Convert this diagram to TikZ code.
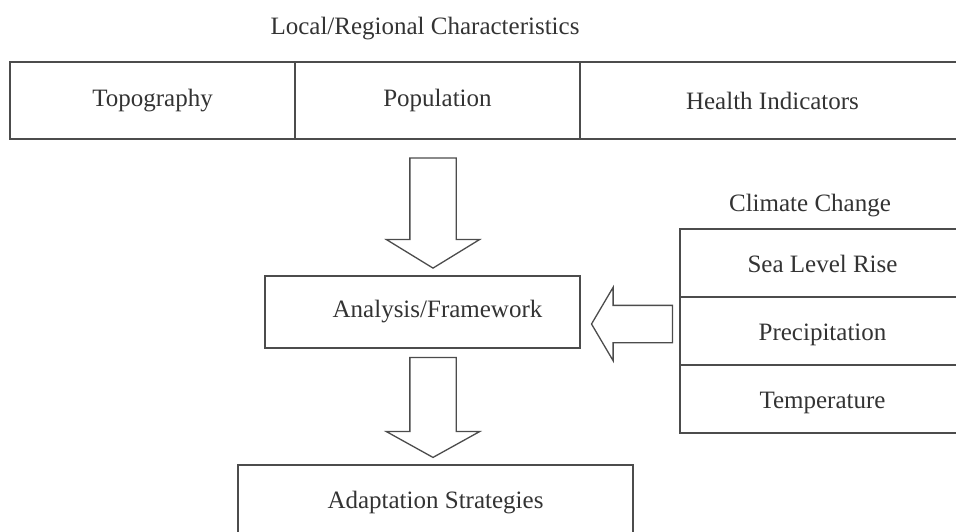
\documentclass[tikz,border=0pt]{standalone}
\usepackage{fontspec}
\setmainfont{Liberation Serif}
\usetikzlibrary{positioning,shapes.arrows}

\begin{document}
\begin{tikzpicture}[
  x=1pt,y=-1pt,
  node distance=0pt,
  line width=1.3pt,
  every node/.style={font=\fontsize{25}{28}\selectfont, text=black!80},
  cell/.style={draw=black!70, rectangle, outer sep=0pt, minimum height=77pt}, % cells of the top row
  stack cell/.style={draw=black!70, rectangle, outer sep=0pt, minimum width=285pt, minimum height=68pt,
    text height=20pt, text depth=1.5pt}, % cells of the climate stack
  box/.style={draw=black!70, rectangle, outer sep=0pt}, % single boxes
  big arrow/.style={single arrow, draw=black!70, fill=white, inner xsep=0pt} % hollow block arrows
  ]
  \clip (0,0) rectangle (956,531);
  \useasboundingbox (0,0) rectangle (956,531);

  % top row
  \node (local) at (425,29) {Local/Regional Characteristics};
  \node[cell, minimum width=285pt] (topo) at (152.5,100.5) {Topography};
  \node[cell, minimum width=285pt] (pop) [right=of topo] {Population};
  \node[cell, minimum width=385pt] (health) [right=of pop] {Health Indicators};

  % middle
  \node[box, minimum width=315pt, minimum height=72pt] (frame) at (422.5,312) {\hspace*{30pt}Analysis/Framework};
  \node[box, minimum width=395pt, minimum height=76pt] (adapt) at (435.5,503) {Adaptation Strategies};

  % climate change stack
  \node[stack cell] (sea) at (822.5,263) {Sea Level Rise};
  \node[stack cell] (precip) [below=of sea] {Precipitation};
  \node[stack cell] (temp) [below=of precip] {Temperature};
  \node (climate) at (810,206) {Climate Change};

  % block arrows
  \node[big arrow, rotate=-90, minimum height=110pt, inner ysep=22.5pt,
        single arrow head extend=23.5pt, single arrow tip angle=117] (a1) at (433,206) {};
  \node[big arrow, rotate=-90, minimum height=100pt, inner ysep=22.5pt,
        single arrow head extend=23.5pt, single arrow tip angle=122] (a2) at (433,401) {};
  \node[big arrow, rotate=180, minimum height=81pt, inner ysep=18pt,
        single arrow head extend=18pt, single arrow tip angle=119] (a3) at (637.5,324) {};
\end{tikzpicture}
\end{document}
